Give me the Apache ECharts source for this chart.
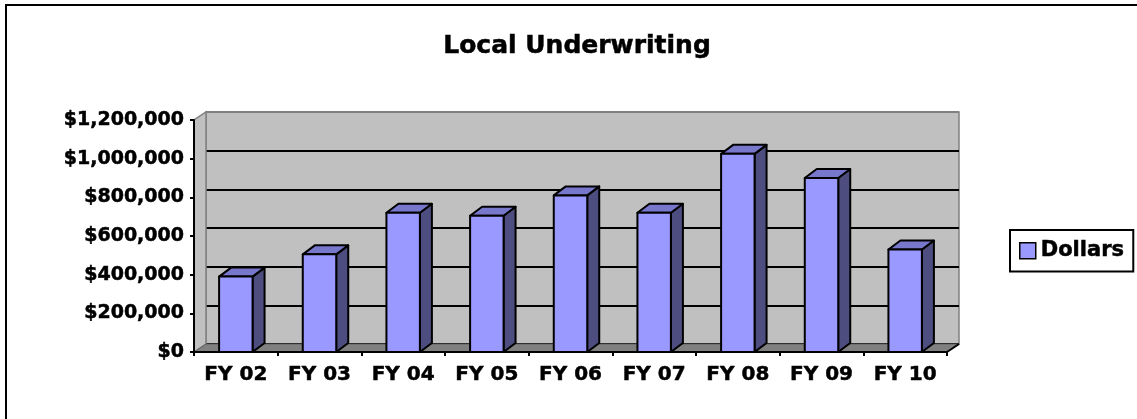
<!DOCTYPE html>
<html>
<head>
<meta charset="utf-8">
<script src="https://cdn.jsdelivr.net/npm/echarts@6/dist/echarts.min.js"></script>
<style>
  html, body { margin: 0; padding: 0; background: #fff; }
  #chart { width: 1137px; height: 419px; }
</style>
</head>
<body>
<div id="chart"></div>
<script>
  // data
  const categories = ['FY 02', 'FY 03', 'FY 04', 'FY 05', 'FY 06', 'FY 07', 'FY 08', 'FY 09', 'FY 10']
  const dollars = [390000, 505000, 720000, 705000, 810000, 720000, 1025000, 900000, 530000]
  const yMin = 0
  const yMax = 1200000
  const yStep = 200000

  const FONT = 'DejaVu Sans'
  const WALL_DX = 12 // back wall offset
  const WALL_DY = -8
  const BAR_DX = 12 // bar depth
  const BAR_DY = -9

  function money(v) {
    return '$' + v.toString().replace(/\B(?=(\d{3})+(?!\d))/g, ',')
  }

  // heavier text, like the reference
  function txt(size) {
    return {
      fontFamily: FONT, fontWeight: 'bold', fontSize: size, color: '#000',
      textBorderColor: '#000', textBorderWidth: 0.5
    }
  }

  let chart = echarts.init(document.getElementById('chart'))

  // floor and left side wall, drawn from the front axes
  function renderFrame(params, api) {
    let band = api.size([1, 0])[0]
    let p0 = api.coord([0, yMin])
    let pTop = api.coord([0, yMax])
    let xL = p0[0] - band / 2
    let xR = xL + band * categories.length
    let yB = p0[1]
    let yT = pTop[1]
    return {
      type: 'group',
      children: [
        { // left wall
          type: 'polygon',
          shape: { points: [[xL, yB], [xL, yT], [xL + WALL_DX, yT + WALL_DY], [xL + WALL_DX, yB + WALL_DY]] },
          style: { fill: '#c0c0c0', stroke: '#808080', lineWidth: 1.5 }
        },
        { // floor
          type: 'polygon',
          shape: { points: [[xL, yB], [xR, yB], [xR + WALL_DX, yB + WALL_DY], [xL + WALL_DX, yB + WALL_DY]] },
          style: { fill: '#808080', stroke: '#606060', lineWidth: 1 }
        },
        {
          type: 'line',
          shape: { x1: xR, y1: yB, x2: xR + WALL_DX, y2: yB + WALL_DY },
          style: { stroke: '#000', lineWidth: 2 }
        }
      ]
    }
  }

  // 3d columns
  function renderBar(params, api) {
    let band = api.size([1, 0])[0]
    let bw = band * 0.4
    let p0 = api.coord([api.value(0), 0])
    let p1 = api.coord([api.value(0), api.value(1)])
    let x = p0[0] - bw / 2
    let y0 = p0[1]
    let y1 = p1[1]
    let edge = { stroke: '#000', lineWidth: 2, lineJoin: 'round' }
    return {
      type: 'group',
      children: [
        {
          type: 'polygon',
          shape: { points: [[x + bw, y1], [x + bw + BAR_DX, y1 + BAR_DY], [x + bw + BAR_DX, y0 + BAR_DY], [x + bw, y0]] },
          style: Object.assign({ fill: '#4d4d80' }, edge)
        },
        {
          type: 'polygon',
          shape: { points: [[x, y1], [x + bw, y1], [x + bw + BAR_DX, y1 + BAR_DY], [x + BAR_DX, y1 + BAR_DY]] },
          style: Object.assign({ fill: '#7777cc' }, edge)
        },
        {
          type: 'rect',
          shape: { x: x, y: y1, width: bw, height: y0 - y1 },
          style: Object.assign({ fill: '#9999ff' }, edge)
        }
      ]
    }
  }

  let option = {
    animation: false,
    backgroundColor: '#fff',
    title: {
      text: 'Local Underwriting',
      left: 572,
      textAlign: 'center',
      top: 29,
      textStyle: txt(25)
    },
    legend: {
      data: ['Dollars'],
      left: 1010,
      top: 230,
      orient: 'vertical',
      icon: 'rect',
      itemWidth: 16,
      itemHeight: 16,
      itemGap: 0,
      padding: [10, 9, 10, 9],
      borderColor: '#000',
      borderWidth: 2,
      selectedMode: false,
      itemStyle: { borderColor: '#000', borderWidth: 1.5 },
      textStyle: txt(21)
    },
    grid: [
      { left: 194, top: 120, width: 753, height: 232 }, // front plane
      { // back wall
        left: 194 + WALL_DX, top: 120 + WALL_DY, width: 753, height: 232,
        show: true, backgroundColor: '#c0c0c0', borderColor: '#808080', borderWidth: 1.5
      }
    ],
    xAxis: [
      {
        type: 'category',
        gridIndex: 0,
        data: categories,
        z: 5,
        axisLine: { lineStyle: { color: '#000', width: 2 } },
        axisTick: { show: true, length: 4, lineStyle: { color: '#000', width: 2 } },
        axisLabel: Object.assign({ margin: 13 }, txt(20))
      },
      {
        type: 'category',
        gridIndex: 1,
        data: categories,
        show: false
      }
    ],
    yAxis: [
      {
        type: 'value',
        gridIndex: 0,
        min: yMin,
        max: yMax,
        interval: yStep,
        z: 5,
        axisLine: { show: true, lineStyle: { color: '#000', width: 2 } },
        axisTick: { show: true, length: 4, lineStyle: { color: '#000', width: 2 } },
        axisLabel: Object.assign({ margin: 10, formatter: money }, txt(19)),
        splitLine: { show: false }
      },
      {
        type: 'value',
        gridIndex: 1,
        min: yMin,
        max: yMax,
        interval: yStep,
        z: 1,
        axisLine: { show: false },
        axisTick: { show: false },
        axisLabel: { show: false },
        splitLine: {
          lineStyle: { color: ['#000', '#000', '#000', '#000', '#000', '#000', '#808080'], width: 2 }
        }
      }
    ],
    series: [
      {
        name: 'frame',
        type: 'custom',
        xAxisIndex: 0,
        yAxisIndex: 0,
        z: 2,
        silent: true,
        renderItem: renderFrame,
        data: [[0, 0]]
      },
      {
        name: 'Dollars',
        type: 'custom',
        xAxisIndex: 0,
        yAxisIndex: 0,
        z: 3,
        itemStyle: { color: '#9999ff' },
        renderItem: renderBar,
        encode: { x: 0, y: 1 },
        data: categories.map((c, i) => [i, dollars[i]])
      }
    ],
    graphic: [
      { // chart frame, only top and left edges fall inside the picture
        type: 'polyline',
        shape: { points: [[1137, 5], [6, 5], [6, 419]] },
        style: { fill: 'none', stroke: '#000', lineWidth: 2 },
        z: 10
      }
    ]
  }
  chart.setOption(option)
</script>
</body>
</html>
